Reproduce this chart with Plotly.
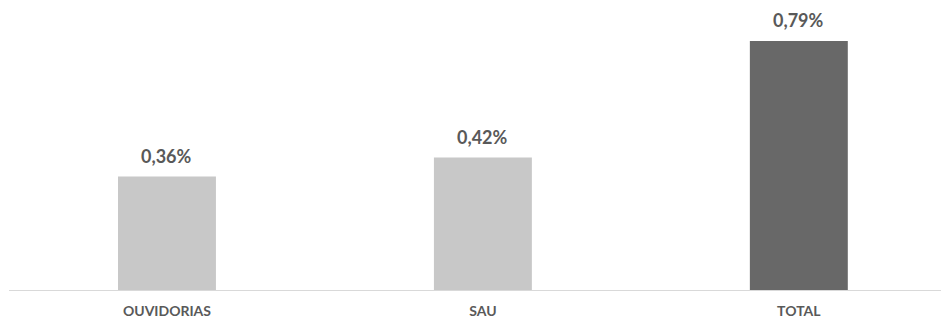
import plotly.graph_objects as go

categories = ["OUVIDORIAS", "SAU", "TOTAL"]
values = [0.36, 0.42, 0.79]
labels = ["0,36%", "0,42%", "0,79%"]
colors = ["#C8C8C8", "#C8C8C8", "#686868"]

fig = go.Figure()
fig.add_trace(go.Bar(
    x=categories, y=values, marker=dict(color=colors, line=dict(width=0)),
    width=0.31, hoverinfo="skip",
))
for c, v, t in zip(categories, values, labels):
    fig.add_annotation(x=c, y=v, text=f"<b>{t}</b>", showarrow=False,
                       yanchor="middle", yshift=21,
                       font=dict(family="Lato", size=18, color="#595959"))

fig.update_layout(
    width=941, height=318,
    margin=dict(l=9, r=0, t=0, b=28),
    paper_bgcolor="white", plot_bgcolor="white",
    showlegend=False,
    xaxis=dict(type="category", range=[-0.5, 2.45], showgrid=False,
               showline=True, linecolor="#D9D9D9", linewidth=1,
               ticks="", ticklabelstandoff=8,
               tickfont=dict(family="Lato", size=14, color="#595959"),
               tickprefix="<b>", ticksuffix="</b>"),
    yaxis=dict(range=[0, 0.92], visible=False),
)
fig.write_html("out.html", config={"displayModeBar": False, "staticPlot": True})

with open("out.html", "r", encoding="utf-8") as f:
    html = f.read()
html = html.replace("<head>", "<head><style>html,body{margin:0;padding:0;overflow:hidden;}</style>", 1)
with open("out.html", "w", encoding="utf-8") as f:
    f.write(html)
